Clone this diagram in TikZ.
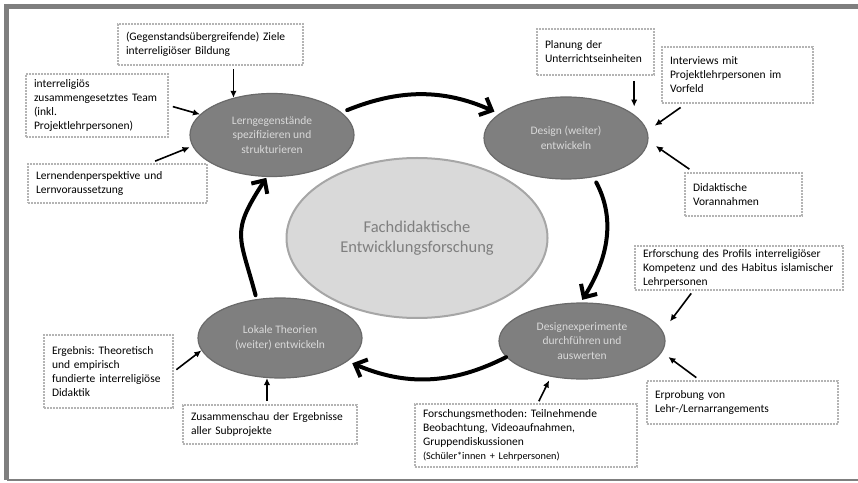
\documentclass[tikz,border=0pt]{standalone}
\usepackage{fontspec}
\setmainfont{Carlito}
\usetikzlibrary{shapes.geometric,arrows.meta}
\definecolor{rahmengrau}{HTML}{7F7F7F}
\definecolor{phasengrau}{HTML}{7F7F7F}
\definecolor{phasenrand}{HTML}{6A6A6A}
\definecolor{hellgrau}{HTML}{D9D9D9}
\definecolor{zentrumrand}{HTML}{A6A6A6}
\definecolor{punktgrau}{HTML}{B4B4B4}
\frenchspacing

\begin{document}
\begin{tikzpicture}[>={Latex[length=7pt,width=6.5pt]},x=1pt,y=1pt,
    phase/.style={ellipse,draw=phasenrand,fill=phasengrau,line width=1.2pt,text=hellgrau,align=center,inner sep=0pt,font=\fontsize{11.5}{14.5}\selectfont},
    zentrum/.style={ellipse,draw=zentrumrand,fill=hellgrau,line width=2pt,text=rahmengrau,align=center,inner sep=0pt,font=\fontsize{16.5}{20}\selectfont},
    kasten/.style={draw=punktgrau,densely dotted,line width=2pt,fill=white,align=left,inner xsep=8pt,inner ysep=0pt,font=\fontsize{11.5}{14}\selectfont},
    zyklus/.style={line width=4pt,line cap=round,-{Straight Barb[length=10pt,width=19pt]}},
    pfeil/.style={->,line width=1.6pt},
    rahmen/.style={draw=rahmengrau}]
    \useasboundingbox (0,0) rectangle (858,482);
    \draw[rahmen,line width=5pt](4,475.5)--(858,475.5);
    \draw[rahmen,line width=5pt](6.5,478)--(6.5,2);
    \draw[rahmen,line width=2pt](6.5,2.5)--(858,2.5);

    \node[zentrum,minimum width=261pt,minimum height=160pt](fef) at (417,244){Fachdidaktische\\Entwicklungsforschung};
    \node[phase,minimum width=164pt,minimum height=83pt](lern) at (272,347){Lerngegenstände\\spezifizieren und\\strukturieren};
    \node[phase,minimum width=164pt,minimum height=82pt](design) at (566,344){Design (weiter)\\entwickeln};
    \node[phase,minimum width=166pt,minimum height=76pt](exp) at (582,141){Designexperimente\\durchführen und\\auswerten};
    \node[phase,minimum width=164pt,minimum height=80pt](theo) at (280,144){Lokale Theorien\\(weiter) entwickeln};

    \node[kasten,text width=169pt,minimum height=41pt](ziele) at (210.5,437.5){(Gegenstandsübergreifende) Ziele\\interreligiöser Bildung};
    \node[kasten,text width=126pt,minimum height=63pt](team) at (97,376.5){interreligiös\\zusammengesetztes Team\\(inkl.\\Projektlehrpersonen)};
    \node[kasten,text width=163pt,minimum height=39pt](lernende) at (117.5,298.5){Lernendenperspektive und\\Lernvoraussetzung};
    \node[kasten,text width=101pt,minimum height=46pt](planung) at (595.5,430){Planung der\\Unterrichtseinheiten};
    \node[kasten,text width=135pt,minimum height=56pt](interviews) at (737.5,407){Interviews mit\\Projektlehrpersonen im\\Vorfeld};
    \node[kasten,text width=101pt,minimum height=43pt](vorannahmen) at (743.5,287.5){Didaktische\\Vorannahmen};
    \node[kasten,text width=192pt,minimum height=44pt](profil) at (739,214){Erforschung des Profils interreligiöser\\Kompetenz und des Habitus islamischer\\Lehrpersonen};
    \node[kasten,text width=175pt,minimum height=43pt](erprobung) at (742.5,79.5){Erprobung von\\Lehr-/Lernarrangements};
    \node[kasten,text width=206pt,minimum height=63pt](methoden) at (526,46.5){Forschungsmethoden: Teilnehmende\\Beobachtung, Videoaufnahmen,\\Gruppendiskussionen\\{\fontsize{10.3}{13}\selectfont(Schüler*innen + Lehrpersonen)}};
    \node[kasten,text width=113pt,minimum height=73pt](ergebnis) at (108.5,110.5){Ergebnis: Theoretisch\\und empirisch\\fundierte interreligiöse\\Didaktik};
    \node[kasten,text width=158pt,minimum height=39pt](schau) at (270,57.5){Zusammenschau der Ergebnisse\\aller Subprojekte};

    \draw[zyklus,shorten <=6pt,shorten >=5pt](lern.18) to[out=22,in=156] (design.160);
    \draw[zyklus,shorten <=6pt,shorten >=3pt](design.305) to[out=-62,in=58] (exp.92);
    \draw[zyklus,shorten >=5pt](exp.192) to[out=207,in=-23] (theo.341);
    \draw[zyklus,shorten <=4pt,shorten >=1pt](theo.121) to[out=105,in=237,looseness=1.4] (lern.263);

    \draw[pfeil,shorten <=3pt](ziele.south -| lern.136)--(lern.136);
    \draw[pfeil,shorten <=4pt](team.east)--(lern.164);
    \draw[pfeil,shorten <=5pt,shorten >=3pt]([xshift=33pt]lernende.north)--(lern.188);
    \draw[pfeil,shorten <=5pt,shorten >=8pt](planung.south -| design.19)--(design.19);
    \draw[pfeil,shorten <=6pt,shorten >=9pt]([xshift=-52pt]interviews.south)--(design.5);
    \draw[pfeil,shorten <=5pt,shorten >=9pt]([xshift=-50pt]vorannahmen.north)--(design.358);
    \draw[pfeil,shorten <=3pt,shorten >=12pt]([xshift=-46pt]profil.south)--(exp.7);
    \draw[pfeil,shorten <=4pt,shorten >=8pt]([xshift=-43pt]erprobung.north)--(exp.352);
    \draw[pfeil,shorten <=2pt,shorten >=4pt]([xshift=12pt]methoden.north)--(exp.229);
    \draw[pfeil,shorten <=3pt](ergebnis.east)--(theo.189);
    \draw[pfeil,shorten <=3pt](schau.north -| theo.252)--(theo.252);
\end{tikzpicture}
\end{document}
